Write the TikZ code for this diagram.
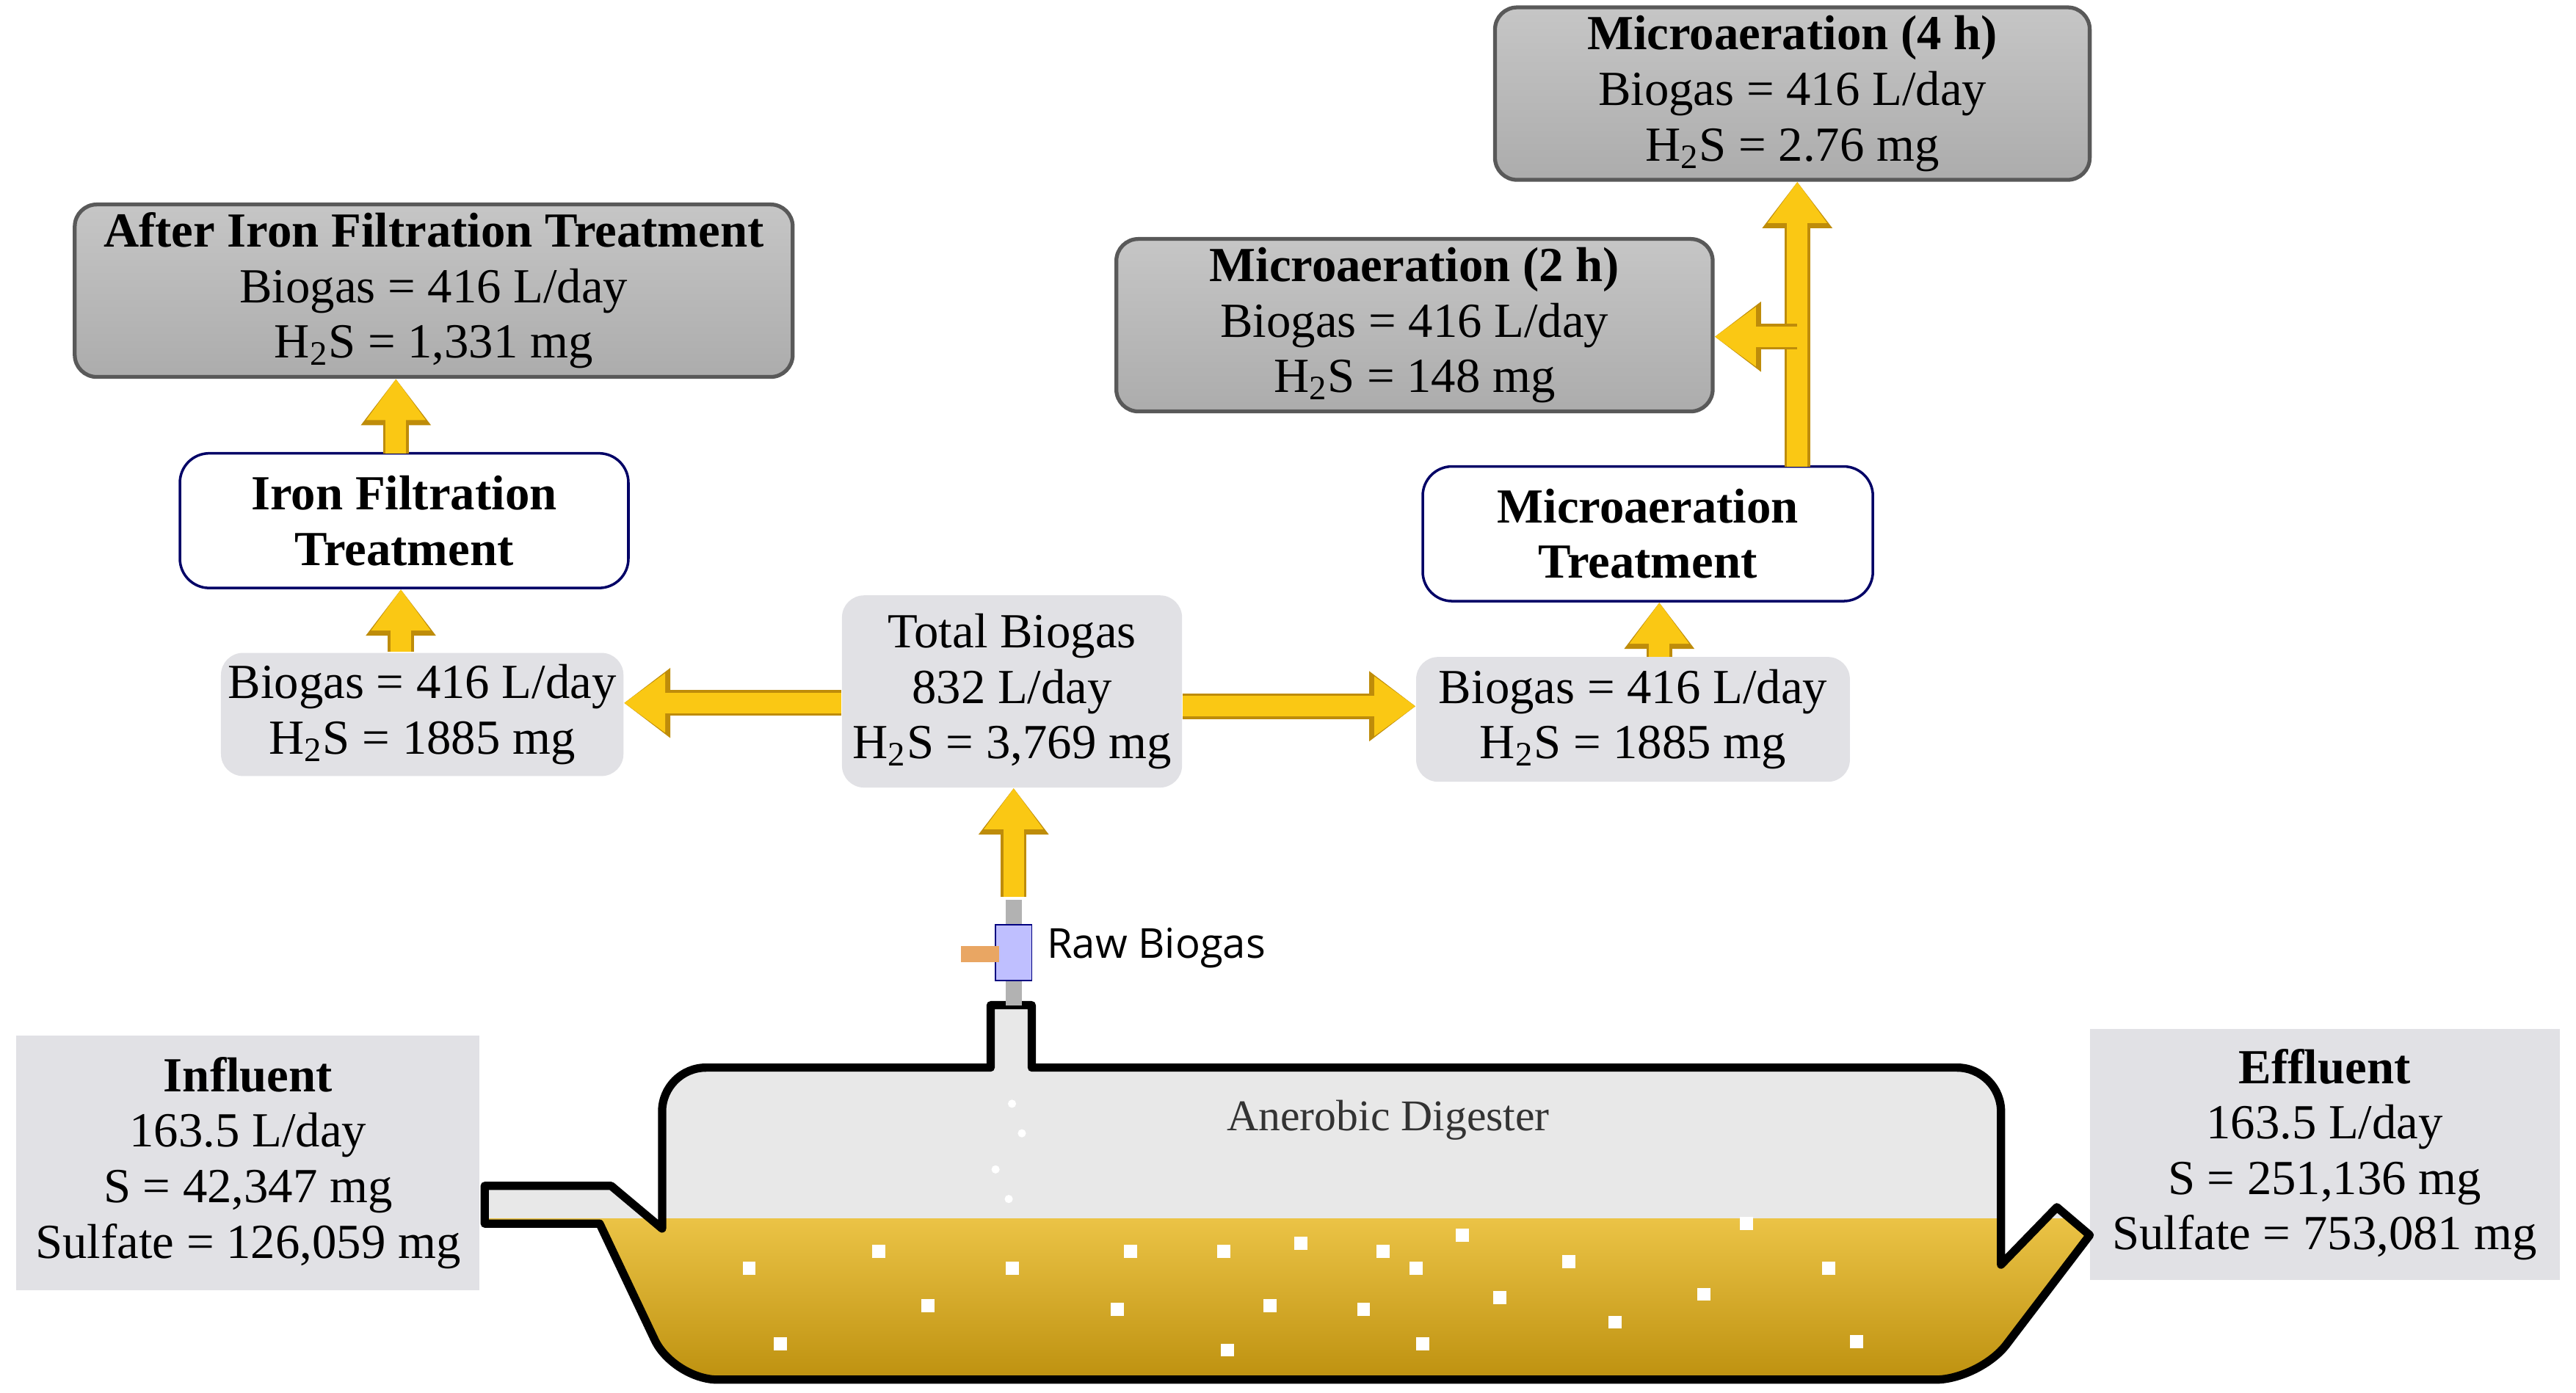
\documentclass[tikz,border=0pt]{standalone}
\usepackage{fontspec}
\setmainfont{Liberation Serif}
\newfontfamily\sansf{Open Sans}
\usetikzlibrary{arrows.meta,shapes.geometric}
\begin{document}
\begin{tikzpicture}[x=0.02238cm,y=-0.02238cm,
  every node/.style={font=\fontsize{19}{21.5}\selectfont,align=center,inner sep=0pt},
  grayb/.style={draw=gray!70!black,line width=1.5pt,rounded corners=3mm,top color=gray!45,bottom color=gray!65,minimum height=105*0.02238cm},
  whiteb/.style={draw=blue!40!black,line width=1pt,rounded corners=4mm,fill=white,minimum height=82*0.02238cm},
  lightb/.style={fill=blue!8!gray!22,rounded corners=3mm},
  fat/.style={line width=8pt,draw={rgb,255:red,250;green,200;blue,20},-{Triangle[length=16pt,width=22pt]},
     preaction={draw={rgb,255:red,190;green,140;blue,10},line width=10pt,-{Triangle[length=18pt,width=26pt]}}},
]
\useasboundingbox (0,0) rectangle (1568,848);
% boxes
\node[grayb,minimum width=362*0.02238cm] (m4) at (1091,57) {\textbf{Microaeration (4 h)}\\Biogas = 416 L/day\\H\textsubscript{2}S = 2.76 mg};
\node[grayb,minimum width=363*0.02238cm] (m2) at (861,198) {\textbf{Microaeration (2 h)}\\Biogas = 416 L/day\\H\textsubscript{2}S = 148 mg};
\node[grayb,minimum width=437*0.02238cm] (af) at (264,177) {\textbf{After Iron Filtration Treatment}\\Biogas = 416 L/day\\H\textsubscript{2}S = 1,331 mg};
\node[whiteb,minimum width=273*0.02238cm] (ift) at (246,317) {\textbf{Iron Filtration}\\\textbf{Treatment}};
\node[whiteb,minimum width=274*0.02238cm] (mt) at (1003,325) {\textbf{Microaeration}\\\textbf{Treatment}};
\node[lightb,minimum width=245*0.02238cm,minimum height=75*0.02238cm] (lb) at (257,435) {Biogas = 416 L/day\\H\textsubscript{2}S = 1885 mg};
\node[lightb,minimum width=207*0.02238cm,minimum height=117*0.02238cm] (tb) at (616,421) {Total Biogas\\832 L/day\\H\textsubscript{2}S = 3,769 mg};
\node[lightb,minimum width=264*0.02238cm,minimum height=76*0.02238cm] (rb) at (994,438) {Biogas = 416 L/day\\H\textsubscript{2}S = 1885 mg};
\node[fill=blue!8!gray!22,minimum width=282*0.02238cm,minimum height=155*0.02238cm] (inf) at (151,708) {\textbf{Influent}\\163.5 L/day\\S = 42,347 mg\\Sulfate = 126,059 mg};
\node[fill=blue!8!gray!22,minimum width=286*0.02238cm,minimum height=153*0.02238cm] (eff) at (1415,703) {\textbf{Effluent}\\163.5 L/day\\S = 251,136 mg\\Sulfate = 753,081 mg};
% digester
\def\body{(403,748) [rounded corners=6mm]-- (403,650) [rounded corners=0mm]-- (603,650) -- (603,612) -- (628,612) -- (628,650) [rounded corners=6mm]-- (1218,650) [rounded corners=0mm]-- (1218,770) -- (1252,735) -- (1272,752) [rounded corners=6mm]-- (1205,840) -- (410,840) [rounded corners=0mm]-- (365,745) -- (295,745) -- (295,722) -- (372,722) -- cycle}
\fill[gray!18] \body;
\begin{scope}
\clip \body;
\shade[top color={rgb,255:red,235;green,195;blue,70},bottom color={rgb,255:red,185;green,140;blue,10}] (290,742) rectangle (1280,850);
\foreach \p in {(456,772),(535,762),(616,772),(688,762),(745,762),(792,757),(842,762),(862,772),(890,752),(955,768),(1063,745),(1113,772),(475,818),(565,795),(680,797),(773,795),(830,797),(913,790),(1037,788),(983,805),(747,822),(866,818),(1130,817)}
  \fill[white] \p ++(-4,-4) rectangle ++(8,8);
\end{scope}
\draw[line width=3.2pt,line join=round] \body;
\node[font=\fontsize{17}{20}\selectfont,text=gray!40!black] (ad) at (845,682) {Anerobic Digester};
\foreach \p in {(616,672),(622,690),(606,712),(614,730)}
  \fill[white] \p circle (2.5);
% valve
\fill[gray!60] (612,548) rectangle (622,612);
\node[draw=blue!50!black,fill=blue!25,minimum width=22*0.02238cm,minimum height=34*0.02238cm] (valve) at (617,580) {};
\fill[orange!50!brown!70] (585,576) rectangle (608,586);
\node[font=\sansf\fontsize{16}{19}\selectfont,anchor=west] (raw) at (637,577) {Raw Biogas};
% arrows
\coordinate (vt) at (617,546);
\coordinate (la) at (244,397);
\coordinate (lc) at (241,276);
\coordinate (ra) at (1010,400);
\coordinate (rc) at (1094,284);
\coordinate (br) at (1094,205);
\draw[fat] (vt) -- (vt|-tb.south);
\draw[fat] ([yshift=-7*0.02238cm]tb.west) -- ([yshift=-7*0.02238cm]tb.west-|lb.east);
\draw[fat] ([yshift=-9*0.02238cm]tb.east) -- ([yshift=-9*0.02238cm]tb.east-|rb.west);
\draw[fat] (la) -- (la|-ift.south);
\draw[fat] (lc) -- (lc|-af.south);
\draw[fat] (ra) -- (ra|-mt.south);
\draw[fat] (rc) -- (rc|-m4.south);
\draw[fat] (br) -- (br-|m2.east);
\end{tikzpicture}
\end{document}
